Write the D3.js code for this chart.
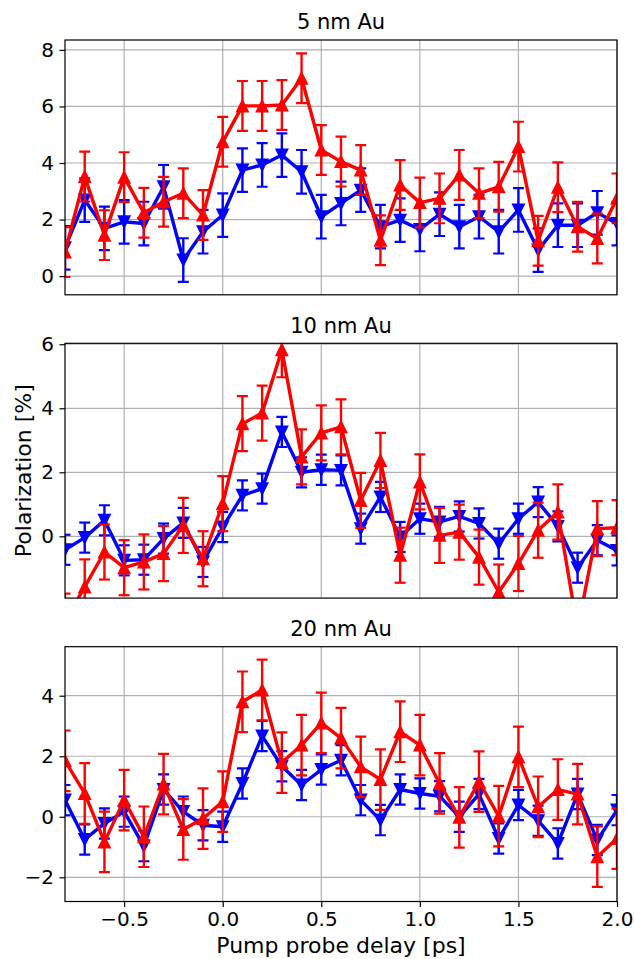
<!DOCTYPE html>
<html>
<head>
<meta charset="utf-8">
<script src="https://cdn.jsdelivr.net/npm/d3@7"></script>
<style>
  body { margin: 0; background: #fff; }
  svg { display: block; font-family: "DejaVu Sans", sans-serif; }
</style>
</head>
<body>
<script>
// Pump probe delays (ps), one point every 0.1 ps
const delays = [-0.8, -0.7, -0.6, -0.5, -0.4, -0.3, -0.2, -0.1, 0.0, 0.1, 0.2, 0.3, 0.4, 0.5, 0.6,
                0.7, 0.8, 0.9, 1.0, 1.1, 1.2, 1.3, 1.4, 1.5, 1.6, 1.7, 1.8, 1.9, 2.0];

const titles = ["5 nm Au", "10 nm Au", "20 nm Au"];

// Polarization [%]
const red5   = [0.85, 3.52, 1.45, 3.5, 2.24, 2.63, 2.93, 2.16, 4.75, 6.02, 6.02, 6.05, 7.0, 4.46, 4.05,
                3.75, 1.27, 3.22, 2.6, 2.75, 3.58, 2.93, 3.16, 4.58, 1.25, 3.14, 1.75, 1.33, 2.75];
const blue5  = [1.0, 2.69, 1.69, 1.92, 1.86, 3.16, 0.57, 1.57, 2.16, 3.75, 3.93, 4.28, 3.69, 2.1, 2.57,
                3.04, 1.75, 1.98, 1.65, 2.19, 1.75, 2.1, 1.57, 2.34, 0.92, 1.8, 1.8, 2.24, 1.86];
const red10  = [-2.65, -1.58, -0.49, -0.98, -0.8, -0.54, 0.34, -0.7, 1.02, 3.52, 3.85, 5.83, 2.48, 3.23, 3.42,
                1.12, 2.37, -0.59, 1.7, 0.03, 0.13, -0.65, -1.74, -0.85, 0.19, 0.76, -2.9, 0.24, 0.27];
const blue10 = [-0.42, -0.04, 0.5, -0.75, -0.73, -0.07, 0.42, -0.8, 0.29, 1.28, 1.49, 3.26, 2.0, 2.08, 2.06,
                0.24, 1.23, -0.02, 0.55, 0.45, 0.62, 0.4, -0.23, 0.55, 1.07, 0.31, -0.98, -0.12, -0.44];
const red20  = [1.85, 0.77, -0.83, 0.55, -0.66, 1.08, -0.42, -0.06, 0.5, 3.8, 4.19, 1.79, 2.37, 3.1, 2.6,
                1.65, 1.23, 2.81, 2.37, 1.1, -0.02, 1.16, 0.02, 1.98, 0.33, 0.9, 0.75, -1.32, -0.72];
const blue20 = [0.55, -0.75, -0.22, 0.17, -0.97, 0.9, 0.17, -0.28, -0.33, 1.1, 2.67, 1.67, 1.05, 1.56, 1.87,
                0.55, -0.11, 0.9, 0.77, 0.68, 0.0, 0.75, -0.72, 0.39, -0.13, -0.88, 0.75, -0.77, 0.22];

// error bar half-lengths per panel
const redErr  = [0.88, 0.86, 1.0];
const blueErr = [0.77, 0.47, 0.5];

// axis limits and ticks
const xDomain = [-0.8, 2.0];
const xTicks = [-0.5, 0.0, 0.5, 1.0, 1.5, 2.0];
const yDomains = [[-0.66, 8.35], [-1.93, 6.03], [-2.8, 5.62]];
const yTicks = [[0, 2, 4, 6, 8], [0, 2, 4, 6], [-2, 0, 2, 4]];

const panels = [
    { title: titles[0], red: red5,  blue: blue5,  rErr: redErr[0], bErr: blueErr[0] },
    { title: titles[1], red: red10, blue: blue10, rErr: redErr[1], bErr: blueErr[1] },
    { title: titles[2], red: red20, blue: blue20, rErr: redErr[2], bErr: blueErr[2] }
];

const width = 634, height = 959;
const left = 65, right = 617;
const tops = [40, 343.3, 646.7];
const panelH = 254.8;

const svg = d3.select("body").append("svg")
    .attr("width", width)
    .attr("height", height);

svg.append("rect").attr("width", width).attr("height", height).attr("fill", "#fff");

const x = d3.scaleLinear().domain(xDomain).range([left, right]);

// triangle marker, pointing up (dir = 1) or down (dir = -1)
function tri(cx, cy, s, dir) {
    const h = s / 2;
    return `M${cx},${cy - dir * h}L${cx - h},${cy + dir * h}L${cx + h},${cy + dir * h}Z`;
}

panels.forEach((p, i) => {
    const top = tops[i], bottom = top + panelH;
    const y = d3.scaleLinear().domain(yDomains[i]).range([bottom, top]);
    const g = svg.append("g");

    g.append("clipPath").attr("id", "clip" + i)
        .append("rect")
        .attr("x", left).attr("y", top)
        .attr("width", right - left).attr("height", panelH);

    // grid
    g.selectAll(".vgrid").data(xTicks).enter().append("line")
        .attr("x1", d => x(d)).attr("x2", d => x(d))
        .attr("y1", top).attr("y2", bottom)
        .attr("stroke", "#b0b0b0").attr("stroke-width", 1.2);
    g.selectAll(".hgrid").data(yTicks[i]).enter().append("line")
        .attr("x1", left).attr("x2", right)
        .attr("y1", d => y(d)).attr("y2", d => y(d))
        .attr("stroke", "#b0b0b0").attr("stroke-width", 1.2);

    const plot = g.append("g").attr("clip-path", `url(#clip${i})`);

    // draw one series: error bars, line, markers
    function series(vals, err, color, dir) {
        const pts = delays.map((d, k) => ({ x: d, v: vals[k] }));
        const s = plot.append("g");
        pts.forEach(d => {
            const px = x(d.x), y1 = y(d.v - err), y2 = y(d.v + err);
            s.append("line").attr("x1", px).attr("x2", px).attr("y1", y1).attr("y2", y2)
                .attr("stroke", color).attr("stroke-width", 2.4);
            [y1, y2].forEach(cy => {
                s.append("line").attr("x1", px - 5.5).attr("x2", px + 5.5).attr("y1", cy).attr("y2", cy)
                    .attr("stroke", color).attr("stroke-width", 2.2);
            });
        });
        s.append("path")
            .datum(pts)
            .attr("d", d3.line().x(d => x(d.x)).y(d => y(d.v)))
            .attr("fill", "none")
            .attr("stroke", color)
            .attr("stroke-width", 3.4)
            .attr("stroke-linejoin", "round");
        s.selectAll(".mk").data(pts).enter().append("path")
            .attr("d", d => tri(x(d.x), y(d.v), 11.5, dir))
            .attr("fill", color)
            .attr("stroke", color)
            .attr("stroke-width", 1.5);
    }

    series(p.blue, p.bErr, "#0000ff", -1);
    series(p.red, p.rErr, "#ff0000", 1);

    // y axis
    g.append("g")
        .attr("transform", `translate(${left},0)`)
        .call(d3.axisLeft(y).tickValues(yTicks[i]).tickFormat(d3.format("d")).tickSize(5.5).tickPadding(5.5))
        .call(a => a.select(".domain").remove())
        .call(a => a.selectAll("line").attr("stroke", "#000").attr("stroke-width", 1.2))
        .call(a => a.selectAll("text").attr("fill", "#000")
            .style("font-size", "20px").style("font-family", "DejaVu Sans"));

    // x axis only on the bottom panel
    if (i === panels.length - 1) {
        g.append("g")
            .attr("transform", `translate(0,${bottom})`)
            .call(d3.axisBottom(x).tickValues(xTicks).tickFormat(d3.format(".1f")).tickSize(5.5).tickPadding(4.5))
            .call(a => a.select(".domain").remove())
            .call(a => a.selectAll("line").attr("stroke", "#000").attr("stroke-width", 1.2))
            .call(a => a.selectAll("text").attr("fill", "#000")
                .style("font-size", "20px").style("font-family", "DejaVu Sans"));
    }

    // frame
    g.append("rect")
        .attr("x", left).attr("y", top)
        .attr("width", right - left).attr("height", panelH)
        .attr("fill", "none").attr("stroke", "#000").attr("stroke-width", 1.2);

    // title
    g.append("text")
        .attr("x", (left + right) / 2)
        .attr("y", top - 10.7)
        .attr("text-anchor", "middle")
        .style("font-size", "21px")
        .text(p.title);
});

// axis labels
svg.append("text")
    .attr("transform", `translate(31,${tops[1] + panelH / 2}) rotate(-90)`)
    .attr("text-anchor", "middle")
    .style("font-size", "22px")
    .text("Polarization [%]");

svg.append("text")
    .attr("x", (left + right) / 2)
    .attr("y", 953)
    .attr("text-anchor", "middle")
    .style("font-size", "22px")
    .text("Pump probe delay [ps]");
</script>
</body>
</html>
